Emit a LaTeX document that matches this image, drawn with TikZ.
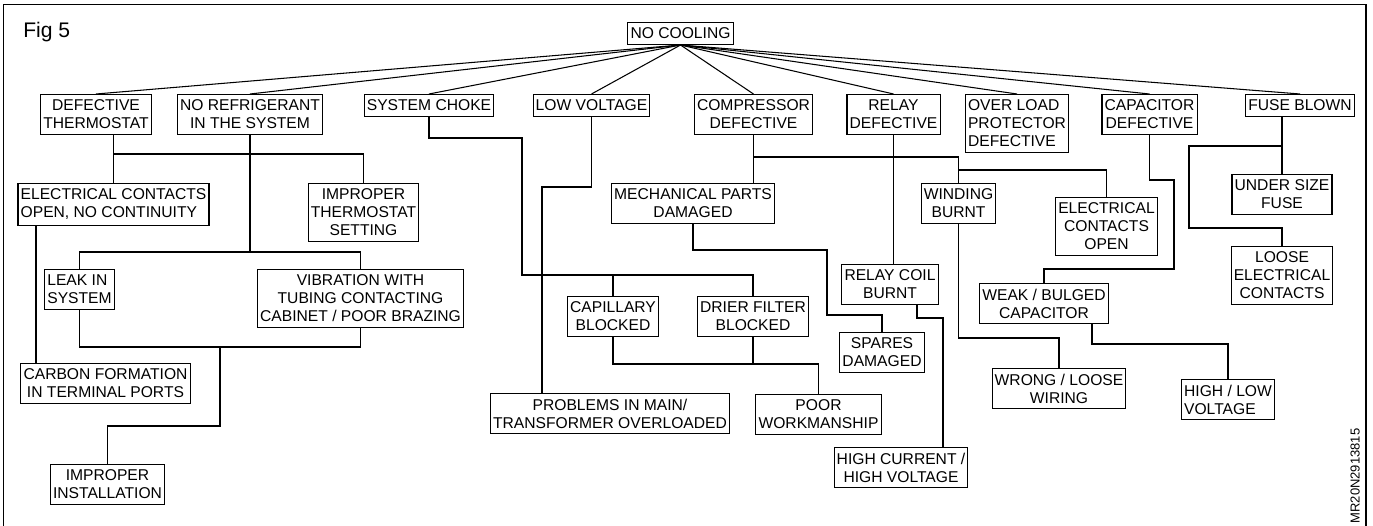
\documentclass[tikz,border=0pt]{standalone}
\usepackage{fontspec}
\setmainfont{Liberation Sans}

\begin{document}
\begin{tikzpicture}[
    box/.style={rectangle, draw=black, fill=white, anchor=north, align=center, inner xsep=1.5pt, inner ysep=3.1pt, font=\fontsize{8.9}{10.25}\selectfont, line width=0.6pt},
    link/.style={draw=black, line width=0.6pt}
]
\useasboundingbox (0,0) rectangle (27.46,-10.52);
\draw[link] (0.07,-10.52) -- (0.07,-0.09) -- (27.32,-0.09) -- (27.32,-10.52);

\node[anchor=base west, inner sep=0pt, font=\fontsize{12}{14}\selectfont] (FIG) at (0.46,-0.76) {Fig 5};
\node[rotate=90, font=\fontsize{7.4}{9}\selectfont] (CODE) at (27.10,-9.52) {MR20N2913815};

\node[box] (COOL) at (13.61,-0.44) {NO COOLING};
\node[box] (THERMO) at (1.92,-1.88) {DEFECTIVE\\THERMOSTAT};
\node[box] (NOREF) at (5.00,-1.88) {NO REFRIGERANT\\IN THE SYSTEM};
\node[box] (CHOKE) at (8.58,-1.88) {SYSTEM CHOKE};
\node[box] (LOWV) at (11.83,-1.88) {LOW VOLTAGE};
\node[box] (COMP) at (15.07,-1.88) {COMPRESSOR\\DEFECTIVE};
\node[box] (RELAY) at (17.87,-1.88) {RELAY\\DEFECTIVE};
\node[box, align=left] (OLP) at (20.34,-1.88) {OVER LOAD\\PROTECTOR\\DEFECTIVE};
\node[box] (CAPDEF) at (22.99,-1.88) {CAPACITOR\\DEFECTIVE};
\node[box] (FUSE) at (26.00,-1.88) {FUSE BLOWN};

\node[box, align=left] (ELCON) at (2.27,-3.66) {ELECTRICAL CONTACTS\\OPEN, NO CONTINUITY};
\node[box] (SETTING) at (7.27,-3.66) {IMPROPER\\THERMOSTAT\\SETTING};
\node[box, align=left] (LEAK) at (1.59,-5.38) {LEAK IN\\SYSTEM};
\node[box] (VIBR) at (7.21,-5.38) {VIBRATION WITH\\TUBING CONTACTING\\CABINET / POOR BRAZING};
\node[box] (CARBON) at (2.11,-7.26) {CARBON FORMATION\\IN TERMINAL PORTS};
\node[box] (INSTALL) at (2.15,-9.28) {IMPROPER\\INSTALLATION};

\node[box] (MECH) at (13.86,-3.66) {MECHANICAL PARTS\\DAMAGED};
\node[box] (CAPIL) at (12.26,-5.92) {CAPILLARY\\BLOCKED};
\node[box] (DRIER) at (15.06,-5.92) {DRIER FILTER\\BLOCKED};
\node[box] (MAINS) at (12.20,-7.86) {PROBLEMS IN MAIN/\\TRANSFORMER OVERLOADED};
\node[box] (WORK) at (16.37,-7.88) {POOR\\WORKMANSHIP};
\node[box] (COIL) at (17.80,-5.28) {RELAY COIL\\BURNT};
\node[box] (SPARES) at (17.64,-6.64) {SPARES\\DAMAGED};
\node[box] (HICUR) at (18.02,-8.94) {HIGH CURRENT /\\HIGH VOLTAGE};

\node[box] (WINDING) at (19.17,-3.66) {WINDING\\BURNT};
\node[box] (ELOPEN) at (22.13,-3.94) {ELECTRICAL\\CONTACTS\\OPEN};
\node[box] (WEAK) at (20.88,-5.66) {WEAK / BULGED\\CAPACITOR};
\node[box] (WIRING) at (21.18,-7.36) {WRONG / LOOSE\\WIRING};
\node[box, align=left] (HILOW) at (24.56,-7.58) {HIGH / LOW\\VOLTAGE};
\node[box] (UNDER) at (25.64,-3.48) {UNDER SIZE\\FUSE};
\node[box] (LOOSE) at (25.64,-4.92) {LOOSE\\ELECTRICAL\\CONTACTS};

% first level
\draw[link] (COOL.south) -- (THERMO.north);
\draw[link] (COOL.south) -- (NOREF.north);
\draw[link] (COOL.south) -- (CHOKE.north);
\draw[link] (COOL.south) -- (LOWV.north);
\draw[link] (COOL.south) -- (COMP.north);
\draw[link] (COOL.south) -- (RELAY.north);
\draw[link] (COOL.south) -- (OLP.north);
\draw[link] (COOL.south) -- (CAPDEF.north);
\draw[link] (COOL.south) -- (FUSE.north);

% thermostat and refrigerant
\coordinate (TBUS) at (0,-3.08);
\draw[link] (THERMO.south -| ELCON.north) -- (ELCON.north);
\draw[link] (ELCON.north |- TBUS) -| (SETTING.north);
\draw[link] ([xshift=-1.55cm]ELCON.south) -- ([xshift=-1.55cm]ELCON.south |- CARBON.north);
\coordinate (RBUS) at (0,-5.04);
\draw[link] (NOREF.south) -- (NOREF.south |- RBUS);
\draw[link] (LEAK.north) |- (VIBR.north |- RBUS) -- (VIBR.north);
\coordinate (LJOIN) at (4.40,-6.94);
\coordinate (LBEND) at (4.40,-8.52);
\draw[link] (LEAK.south) |- (VIBR.south |- LJOIN) -- (VIBR.south);
\draw[link] (LJOIN) -- (LBEND) -| (INSTALL.north);

% choke and low voltage
\coordinate (CBEND) at (10.44,-2.76);
\coordinate (CBUS) at (10.44,-5.50);
\draw[link] (CHOKE.south) |- (CBEND) -- (CBUS) -| (DRIER.north);
\draw[link] (CAPIL.north) -- (CAPIL.north |- CBUS);
\coordinate (BBUS) at (0,-7.28);
\draw[link] (CAPIL.south) |- (WORK.north |- BBUS) -- (WORK.north);
\draw[link] (DRIER.south) -- (DRIER.south |- BBUS);
\coordinate (VBEND) at (10.84,-3.74);
\draw[link] (LOWV.south) |- (VBEND) -- (VBEND |- MAINS.north);

% compressor and relay
\coordinate (KBUS) at (0,-3.14);
\coordinate (KBUS2) at (0,-3.40);
\draw[link] (COMP.south) -- (COMP.south |- MECH.north);
\draw[link] (COMP.south |- KBUS) -| (WINDING.north);
\draw[link] (WINDING.north |- KBUS2) -| (ELOPEN.north);
\coordinate (MBEND) at (16.54,-5.00);
\coordinate (MBEND2) at (16.54,-6.30);
\draw[link] (MECH.south) |- (MBEND) -- (MBEND2) -| (SPARES.north);
\coordinate (WBUS) at (0,-6.76);
\draw[link] (WINDING.south) |- (WIRING.north |- WBUS) -- (WIRING.north);
\draw[link] (RELAY.south) -- (RELAY.south |- COIL.north);
\coordinate (RBEND) at (18.86,-6.36);
\draw[link] ([xshift=0.54cm]COIL.south) |- (RBEND) -- (RBEND |- HICUR.north);

% capacitor and fuse
\coordinate (PBEND) at (23.48,-3.60);
\coordinate (PBEND2) at (23.48,-5.38);
\draw[link] (CAPDEF.south) |- (PBEND) -- (PBEND2) -| (WEAK.north);
\coordinate (QBUS) at (0,-6.88);
\draw[link] ([xshift=0.96cm]WEAK.south) |- (HILOW.north |- QBUS) -- (HILOW.north);
\coordinate (FBEND) at (23.78,-2.92);
\coordinate (FBEND2) at (23.78,-4.56);
\draw[link] (UNDER.north |- FUSE.south) -- (UNDER.north);
\draw[link] (UNDER.north |- FBEND) -- (FBEND) -- (FBEND2) -| (LOOSE.north);
\end{tikzpicture}
\end{document}
